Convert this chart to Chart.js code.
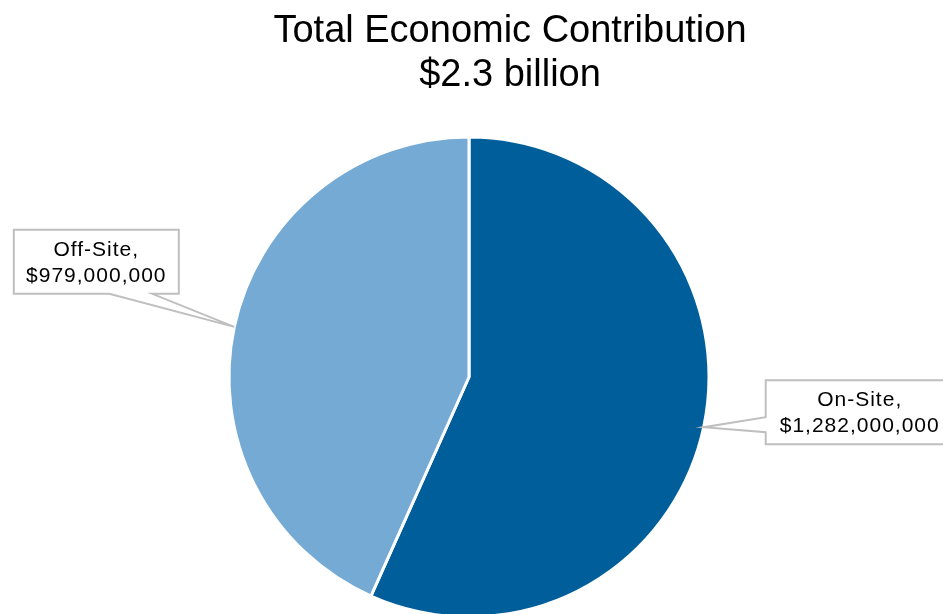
<!DOCTYPE html>
<html>
<head>
<meta charset="utf-8">
<script src="https://cdn.jsdelivr.net/npm/chart.js@4"></script>
<style>
  html, body { margin: 0; padding: 0; background: #fff; overflow: hidden; }
</style>
</head>
<body>
<canvas id="chart" width="943" height="646"></canvas>
<script>
// --- Data ---
const categories = ["On-Site", "Off-Site"];
const contributions = [1282000000, 979000000];
const titleLines = ["Total Economic Contribution", "$2.3 billion"];
const sliceColors = ["#005e9b", "#74aad3"];

// callout box placement relative to the edge point each one points at
const calloutStyle = [
  { dx: 156, dy: -15, w: 188, h: 64, side: "left", b1: 5, b2: 20 },
  { dx: -138, dy: -65, w: 165, h: 64, side: "bottom", b1: 13, b2: 56 }
];

// title sits a bit right of the canvas centre, like the original
const titleStyle = { x: 510, baselines: [42, 86], font: "38px 'Liberation Sans', Arial, sans-serif" };

const titlePlugin = {
  id: "titleText",
  afterDraw(chart) {
    const ctx = chart.ctx;
    ctx.save();
    ctx.fillStyle = "#000";
    ctx.font = titleStyle.font;
    ctx.textAlign = "center";
    ctx.textBaseline = "alphabetic";
    titleLines.forEach((line, i) => {
      ctx.fillText(line, titleStyle.x, titleStyle.baselines[i]);
    });
    ctx.restore();
  }
};

const calloutPlugin = {
  id: "callouts",
  afterDatasetsDraw(chart) {
    const ctx = chart.ctx;
    const arcs = chart.getDatasetMeta(0).data;
    arcs.forEach((arc, i) => {
      const st = calloutStyle[i];
      const mid = (arc.startAngle + arc.endAngle) / 2;
      const tx = arc.x + Math.cos(mid) * arc.outerRadius;
      const ty = arc.y + Math.sin(mid) * arc.outerRadius;
      const cx = tx + st.dx, cy = ty + st.dy;
      const l = cx - st.w / 2, r = cx + st.w / 2;
      const t = cy - st.h / 2, b = cy + st.h / 2;

      ctx.save();
      ctx.beginPath();
      if (st.side === "left") {
        ctx.moveTo(l, t);
        ctx.lineTo(r, t);
        ctx.lineTo(r, b);
        ctx.lineTo(l, b);
        ctx.lineTo(l, cy + st.b2);
        ctx.lineTo(tx, ty);
        ctx.lineTo(l, cy + st.b1);
      } else {
        ctx.moveTo(l, t);
        ctx.lineTo(r, t);
        ctx.lineTo(r, b);
        ctx.lineTo(cx + st.b2, b);
        ctx.lineTo(tx, ty);
        ctx.lineTo(cx + st.b1, b);
        ctx.lineTo(l, b);
      }
      ctx.closePath();
      ctx.fillStyle = "#ffffff";
      ctx.fill();
      ctx.strokeStyle = "#bfbfbf";
      ctx.lineWidth = 2;
      ctx.stroke();

      ctx.fillStyle = "#000";
      ctx.font = "21px 'Liberation Sans', Arial, sans-serif";
      ctx.letterSpacing = "1px";
      ctx.textAlign = "center";
      ctx.textBaseline = "middle";
      ctx.fillText(categories[i] + ",", cx, cy - 12);
      ctx.fillText("$" + contributions[i].toLocaleString("en-US"), cx, cy + 14);
      ctx.restore();
    });
  }
};

new Chart(document.getElementById("chart"), {
  type: "pie",
  data: {
    labels: categories,
    datasets: [{
      data: contributions,
      backgroundColor: sliceColors,
      borderColor: "#ffffff",
      borderWidth: 3,
      hoverOffset: 0,
      radius: 240
    }]
  },
  options: {
    responsive: false,
    animation: false,
    events: [],
    layout: { padding: { top: 108, left: 0, right: 5, bottom: 0 } },
    plugins: {
      legend: { display: false },
      tooltip: { enabled: false },
      title: { display: false }
    }
  },
  plugins: [calloutPlugin, titlePlugin]
});
</script>
</body>
</html>
